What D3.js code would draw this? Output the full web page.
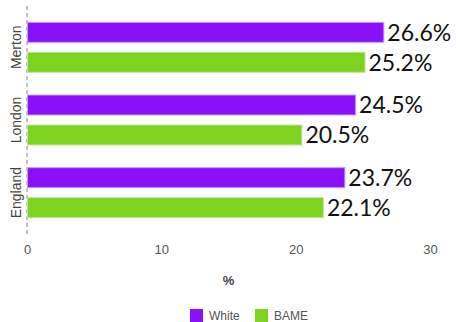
<!DOCTYPE html>
<html>
<head>
<meta charset="utf-8">
<script src="https://cdn.jsdelivr.net/npm/d3@7"></script>
<style>
  html, body { margin: 0; padding: 0; background: #fff; }
  svg { display: block; }
</style>
</head>
<body>
<svg id="chart" width="456" height="322"></svg>
<script>
// Share of people by area and ethnic group (%)
const areas = ["Merton", "London", "England"];
const groups = ["White", "BAME"];
const whiteValues = [26.6, 24.5, 23.7];
const bameValues = [25.2, 20.5, 22.1];
const xTicks = [0, 10, 20, 30];
const colors = { White: "#8a10f7", BAME: "#7ed321" };
const borders = { White: "#c79bf9", BAME: "#bfe89a" };

const rows = areas.map((a, i) => ({ area: a, White: whiteValues[i], BAME: bameValues[i] }));

const svg = d3.select("#chart");
const x = d3.scaleLinear().domain([0, 30]).range([27, 430]);
const y0 = d3.scaleBand().domain(areas).range([11, 229]).padding(0);
const y1 = d3.scaleBand().domain(groups)
  .range([(y0.bandwidth() - 51) / 2, (y0.bandwidth() + 51) / 2])
  .paddingInner(0.3).paddingOuter(0);

// dashed category axis
svg.append("line")
  .attr("x1", x(0)).attr("x2", x(0))
  .attr("y1", 6).attr("y2", 236)
  .attr("stroke", "#888").attr("stroke-width", 1)
  .attr("stroke-dasharray", "4,3");

// category labels
svg.append("g").selectAll("text").data(areas).join("text")
  .attr("transform", d => `translate(21,${y0(d) + y0.bandwidth() / 2}) rotate(-90)`)
  .attr("text-anchor", "middle")
  .attr("font-family", "Liberation Sans, Arial, sans-serif")
  .attr("font-size", 14)
  .attr("fill", "#444")
  .text(d => d);

// bars
const g = svg.append("g").selectAll("g").data(rows).join("g")
  .attr("transform", d => `translate(0,${y0(d.area)})`);

g.selectAll("rect").data(d => groups.map(k => ({ key: k, value: d[k] }))).join("rect")
  .attr("x", x(0) + 0.5)
  .attr("y", d => y1(d.key) + 0.5)
  .attr("width", d => x(d.value) - x(0) - 1)
  .attr("height", y1.bandwidth() - 1)
  .attr("fill", d => colors[d.key])
  .attr("stroke", d => borders[d.key])
  .attr("stroke-width", 1);

g.selectAll("text").data(d => groups.map(k => ({ key: k, value: d[k] }))).join("text")
  .attr("x", d => x(d.value) + 3)
  .attr("y", d => y1(d.key) + y1.bandwidth() / 2)
  .attr("dy", "0.36em")
  .attr("font-family", "Lato, Carlito, sans-serif")
  .attr("font-size", 23)
  .attr("fill", "#111")
  .text(d => d.value.toFixed(1) + "%");

// value axis
const xAxis = d3.axisBottom(x).tickValues(xTicks).tickSize(0).tickPadding(0);
const ax = svg.append("g").attr("transform", "translate(0,245)").call(xAxis);
ax.select(".domain").remove();
ax.selectAll("text")
  .attr("font-family", "Liberation Sans, Arial, sans-serif")
  .attr("font-size", 13)
  .attr("fill", "#555")
  .attr("dy", "0.71em");

svg.append("text")
  .attr("x", (x(0) + x(30)) / 2).attr("y", 285)
  .attr("text-anchor", "middle")
  .attr("font-family", "Liberation Sans, Arial, sans-serif")
  .attr("font-size", 13).attr("font-weight", "bold")
  .attr("fill", "#444")
  .text("%");

// legend
const legendItems = [
  { key: "White", sx: 190, tx: 209 },
  { key: "BAME", sx: 255, tx: 274 }
];
const lg = svg.append("g");
lg.selectAll("rect").data(legendItems).join("rect")
  .attr("x", d => d.sx).attr("y", 309)
  .attr("width", 13).attr("height", 13)
  .attr("fill", d => colors[d.key]);
lg.selectAll("text").data(legendItems).join("text")
  .attr("x", d => d.tx).attr("y", 320)
  .attr("font-family", "Liberation Sans, Arial, sans-serif")
  .attr("font-size", 12)
  .attr("fill", "#555")
  .text(d => d.key);
</script>
</body>
</html>
